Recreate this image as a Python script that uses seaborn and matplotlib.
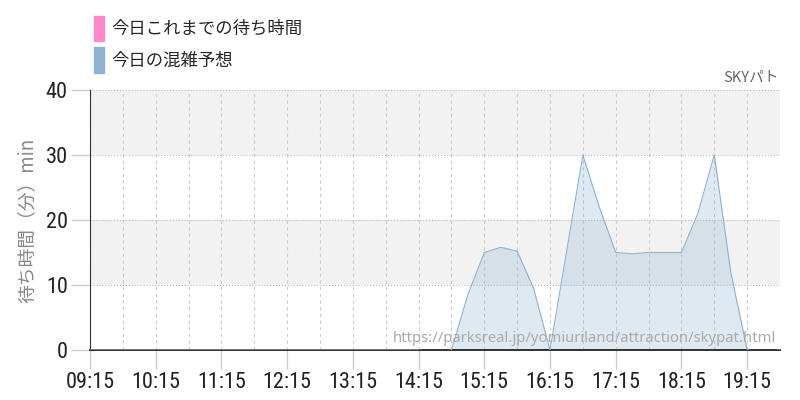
import matplotlib

matplotlib.use("Agg")
import matplotlib.pyplot as plt
from matplotlib.patches import Patch
import pandas as pd
import seaborn as sns

# forecast (今日の混雑予想), one value every 15 minutes from 09:15 to 19:45
TIMES = [
    "09:15", "09:30", "09:45", "10:00", "10:15", "10:30", "10:45", "11:00",
    "11:15", "11:30", "11:45", "12:00", "12:15", "12:30", "12:45", "13:00",
    "13:15", "13:30", "13:45", "14:00", "14:15", "14:30", "14:45", "15:00",
    "15:15", "15:30", "15:45", "16:00", "16:15", "16:30", "16:45", "17:00",
    "17:15", "17:30", "17:45", "18:00", "18:15", "18:30", "18:45", "19:00",
    "19:15", "19:30", "19:45",
]
FORECAST = [
    0, 0, 0, 0, 0, 0, 0, 0,
    0, 0, 0, 0, 0, 0, 0, 0,
    0, 0, 0, 0, 0, -0.3, 0, 8.5,
    15, 15.8, 15.2, 9.5, 0, 15, 30, 22,
    15, 14.8, 15, 15, 15, 21, 30, 12,
    0, -0.3, 0,
]
# today's actual waits so far (今日これまでの待ち時間): no data yet
ACTUAL_TIMES = []
ACTUAL = []

X_TICKS = ["09:15", "10:15", "11:15", "12:15", "13:15", "14:15",
           "15:15", "16:15", "17:15", "18:15", "19:15"]
Y_TICKS = [0, 10, 20, 30, 40]

PINK = "#ff88cc"
BLUE = "#8fb2d0"


def to_hours(t):
    h, m = t.split(":")
    return int(h) + int(m) / 60


sns.set_style("white")
plt.rcParams["font.family"] = ["Noto Sans CJK JP", "DejaVu Sans"]

df = pd.DataFrame({"hour": [to_hours(t) for t in TIMES], "wait": FORECAST})

fig = plt.figure(figsize=(8, 4), dpi=100)
ax = fig.add_axes([0.1125, 0.125, 0.8625, 0.65])

# alternating background bands
for lo in (10, 30):
    ax.axhspan(lo, lo + 10, color="#f2f2f2", zorder=0, lw=0)

sns.lineplot(data=df, x="hour", y="wait", color=BLUE, lw=0.8, ax=ax, zorder=3)
ax.fill_between(df.hour, df.wait, color=BLUE, alpha=0.28, lw=0, zorder=2)
if ACTUAL:
    ax.plot([to_hours(t) for t in ACTUAL_TIMES], ACTUAL, color=PINK, zorder=4)

ax.set_xlim(to_hours("09:15"), to_hours("19:45"))
ax.set_ylim(0, 40)

xt = [to_hours(t) for t in X_TICKS]
ax.set_xticks(xt)
ax.set_xticklabels(X_TICKS)
ax.set_xticks([x + 0.5 for x in xt[:-1]], minor=True)
ax.set_yticks(Y_TICKS)

cond = ["Roboto Condensed", "Roboto", "DejaVu Sans"]
for lab in ax.get_xticklabels() + ax.get_yticklabels():
    lab.set_family(cond)
    lab.set_stretch("condensed")
    lab.set_fontsize(16)
    lab.set_color("#222222")

ax.tick_params(axis="both", which="major", length=14, width=1, color="#cccccc",
               direction="out", pad=2, bottom=True, left=True)
ax.tick_params(axis="x", which="minor", length=0)

ax.grid(axis="y", which="major", color="#bbbbbb", ls=":", lw=0.8, zorder=1)
ax.grid(axis="x", which="both", color="#cccccc", ls=(0, (3, 3)), lw=0.8, zorder=1)
ax.set_axisbelow(True)

for side in ("top", "right"):
    ax.spines[side].set_visible(False)
ax.spines["left"].set_color("#333333")
ax.spines["bottom"].set_color("#222222")
ax.spines["bottom"].set_linewidth(1.3)

ax.set_xlabel("")
ax.set_ylabel("待ち時間（分）min", color="#888888", fontsize=13.5, labelpad=6)

# watermark and ride name
ax.text(0.995, 0.045, "https://parksreal.jp/yomiuriland/attraction/skypat.html",
        transform=ax.transAxes, ha="right", va="center", color="#aaaaaa",
        fontsize=10.7, family=["Noto Sans", "DejaVu Sans"], zorder=5)
fig.text(0.973, 0.805, "SKYパト", ha="right", va="center", color="#666666", fontsize=10.5)

handles = [Patch(color=PINK), Patch(color=BLUE)]
fig.legend(handles, ["今日これまでの待ち時間", "今日の混雑予想"], loc="upper left",
           bbox_to_anchor=(0.098, 1.0), frameon=False, fontsize=12.5,
           handlelength=0.55, handleheight=1.9, handletextpad=0.45,
           labelspacing=0.35)

fig.savefig("out.png", dpi=100)
